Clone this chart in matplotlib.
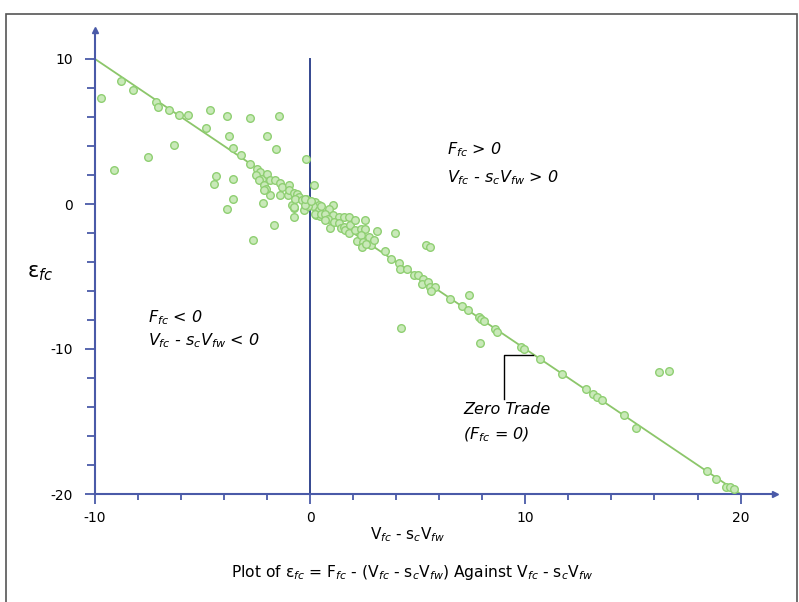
import matplotlib.pyplot as plt
from matplotlib.patches import Rectangle

# values
x_vals = [-9.73, -8.78, -8.23, -7.15, -7.07, -6.56, -6.11, -5.68, -4.67, -4.86,
          -6.34, -7.53, -9.12, -3.87, -2.82, -1.44, -3.79, -2.00, -3.60, -1.61,
          -3.22, -2.82, -0.20, -4.36, -4.45, -3.57, -3.60, -3.85, -2.21, -1.66,
          -2.64, 0.17, -1.87, -1.39, -1.05, -0.74, -0.77, -0.84, -0.28, 0.25,
          -2.47, -2.31, -2.52, -2.23, -2.00, -2.38, -2.13, -1.86, -2.04, -2.15,
          -1.64, -1.42, -1.30, -1.00, -1.00, -0.77, -0.62, -0.51, -0.71, -0.37,
          -0.19, -0.03, 0.22, 0.40, 0.12, -0.09, -0.22, -0.77, 0.40, 0.46,
          -0.22, 0.05, 0.22, 0.49, 1.08, 0.87, 0.50, 0.71, 1.05, 1.36,
          0.84, 0.68, 0.93, 1.11, 1.35, 1.55, 1.82, 1.41, 1.58, 1.62,
          1.86, 2.06, 1.82, 2.09, 2.17, 2.38, 2.57, 2.57, 2.38, 2.44,
          2.41, 2.74, 2.82, 2.97, 2.60, 3.12, 3.93, 3.49, 3.74, 4.13,
          4.18, 4.49, 4.84, 5.03, 5.26, 5.21, 5.46, 5.57, 5.80, 5.63,
          5.37, 5.58, 6.50, 7.05, 7.32, 7.39, 4.21, 7.83, 7.93, 8.10,
          8.60, 8.69, 7.89, 9.81, 9.95, 10.69, 11.71, 12.81, 13.13, 13.33,
          13.57, 14.59, 15.16, 16.19, 16.67, 18.44, 18.86, 19.33, 19.50, 19.69]
y_vals = [7.29, 8.48, 7.86, 7.01, 6.71, 6.48, 6.12, 6.12, 6.48, 5.22,
          4.05, 3.26, 2.34, 6.05, 5.93, 6.05, 4.69, 4.69, 3.84, 3.82,
          3.38, 2.74, 3.08, 1.91, 1.38, 1.72, 0.32, -0.32, 0.05, -1.43,
          -2.48, 1.33, 0.62, 0.60, 0.64, -0.25, -0.87, -0.07, -0.41, -0.76,
          2.39, 2.21, 1.98, 1.75, 2.07, 1.66, 1.33, 1.66, 1.06, 0.97,
          1.66, 1.43, 1.19, 1.29, 0.97, 0.78, 0.69, 0.50, 0.32, 0.28,
          0.37, 0.19, 0.14, -0.07, -0.14, -0.14, -0.09, -0.23, -0.41, -0.83,
          0.32, 0.19, -0.71, -0.14, -0.09, -0.37, -0.69, -0.71, -0.78, -0.87,
          -1.06, -1.10, -1.68, -1.24, -1.33, -0.90, -0.87, -1.68, -1.56, -1.79,
          -1.45, -1.13, -2.02, -1.79, -2.53, -1.70, -1.72, -1.13, -2.11, -2.60,
          -2.99, -2.30, -2.83, -2.48, -2.76, -1.89, -2.02, -3.22, -3.82, -4.05,
          -4.48, -4.48, -4.92, -4.92, -5.15, -5.54, -5.36, -5.70, -5.70, -5.98,
          -2.83, -2.99, -6.55, -7.03, -7.33, -6.30, -8.57, -7.82, -7.95, -8.07,
          -8.64, -8.80, -9.61, -9.84, -10.02, -10.71, -11.75, -12.78, -13.10, -13.29,
          -13.52, -14.57, -15.45, -11.56, -11.54, -18.43, -18.97, -19.50, -19.54, -19.66]

# zero trade line
line_x = [-10, 20]
line_y = [10, -20]

x_ticks = [-10, 0, 10, 20]
y_ticks = [-20, -10, 0, 10]

axis_col = '#4a5aa8'
green = '#8cc66a'

plt.rcParams['mathtext.fontset'] = 'dejavusans'
plt.rcParams['axes.unicode_minus'] = False
fig = plt.figure(figsize=(7.99, 6.02), dpi=100)
ax = fig.add_axes([95 / 799, 108 / 602, 680 / 799, 464 / 602])

ax.plot(line_x, line_y, color=green, lw=1.3, zorder=2)
ax.plot([0, 0], [-20, 10], color='#34478f', lw=1.4, zorder=1)
ax.scatter(x_vals, y_vals, s=30, facecolor='#c9e9b9', edgecolor='#8fcf72',
           linewidths=1.0, zorder=3)

ax.set_xlim(-10, 21.6)
ax.set_ylim(-20, 12)
for side in ['top', 'right']:
    ax.spines[side].set_visible(False)
for side in ['left', 'bottom']:
    ax.spines[side].set_color(axis_col)
    ax.spines[side].set_linewidth(1.5)

ax.set_xticks(x_ticks)
ax.set_yticks(y_ticks)
ax.set_xticks(range(-10, 21, 2), minor=True)
ax.set_yticks(range(-20, 11, 2), minor=True)
ax.tick_params(which='major', length=7, width=1.3, color=axis_col, labelsize=10)
ax.tick_params(axis='x', which='minor', length=4, width=1.3, color=axis_col)
ax.tick_params(axis='y', which='minor', length=6, width=1.3, color=axis_col)
ax.tick_params(axis='y', which='major', pad=9)
ax.tick_params(axis='x', which='major', pad=5)

# arrow heads at the axis ends
ax.plot(1, 0, '>', color=axis_col, ms=5, transform=ax.transAxes, clip_on=False)
ax.plot(0, 1, '^', color=axis_col, ms=5, transform=ax.transAxes, clip_on=False)

fs = 11.5
ax.text(6.36, 3.72, r'$F_{fc}$ > 0', style='italic', fontsize=fs, va='center')
ax.text(6.36, 1.79, r'$V_{fc}$ - $s_{c}V_{fw}$ > 0', style='italic', fontsize=fs, va='center')
ax.text(-7.52, -7.86, r'$F_{fc}$ < 0', style='italic', fontsize=fs, va='center')
ax.text(-7.52, -9.45, r'$V_{fc}$ - $s_{c}V_{fw}$ < 0', style='italic', fontsize=fs, va='center')
ax.text(7.1, -14.2, 'Zero Trade', style='italic', fontsize=fs, va='center')
ax.text(7.1, -15.93, r'($F_{fc}$ = 0)', style='italic', fontsize=fs, va='center')
ax.plot([9.0, 9.0, 10.35], [-13.45, -10.41, -10.41], color='black', lw=1.0)

fig.text(408 / 799, 1 - 535 / 602, r'V$_{fc}$ - s$_{c}$V$_{fw}$', ha='center', va='center', fontsize=11)
fig.text(27 / 799, 1 - 273 / 602, r'ε$_{fc}$', ha='left', va='center', fontsize=15)
fig.text(412 / 799, 1 - 572 / 602,
         r'Plot of ε$_{fc}$ = F$_{fc}$ - (V$_{fc}$ - s$_{c}$V$_{fw}$) Against V$_{fc}$ - s$_{c}$V$_{fw}$',
         ha='center', va='center', fontsize=11.2)

# outer frame
fig.patches.append(Rectangle((6 / 799, -0.02), 791 / 799, 1.008 - 7 / 602,
                             transform=fig.transFigure, fill=False,
                             edgecolor='#555555', lw=1.2))

fig.savefig('out.png', dpi=100)
